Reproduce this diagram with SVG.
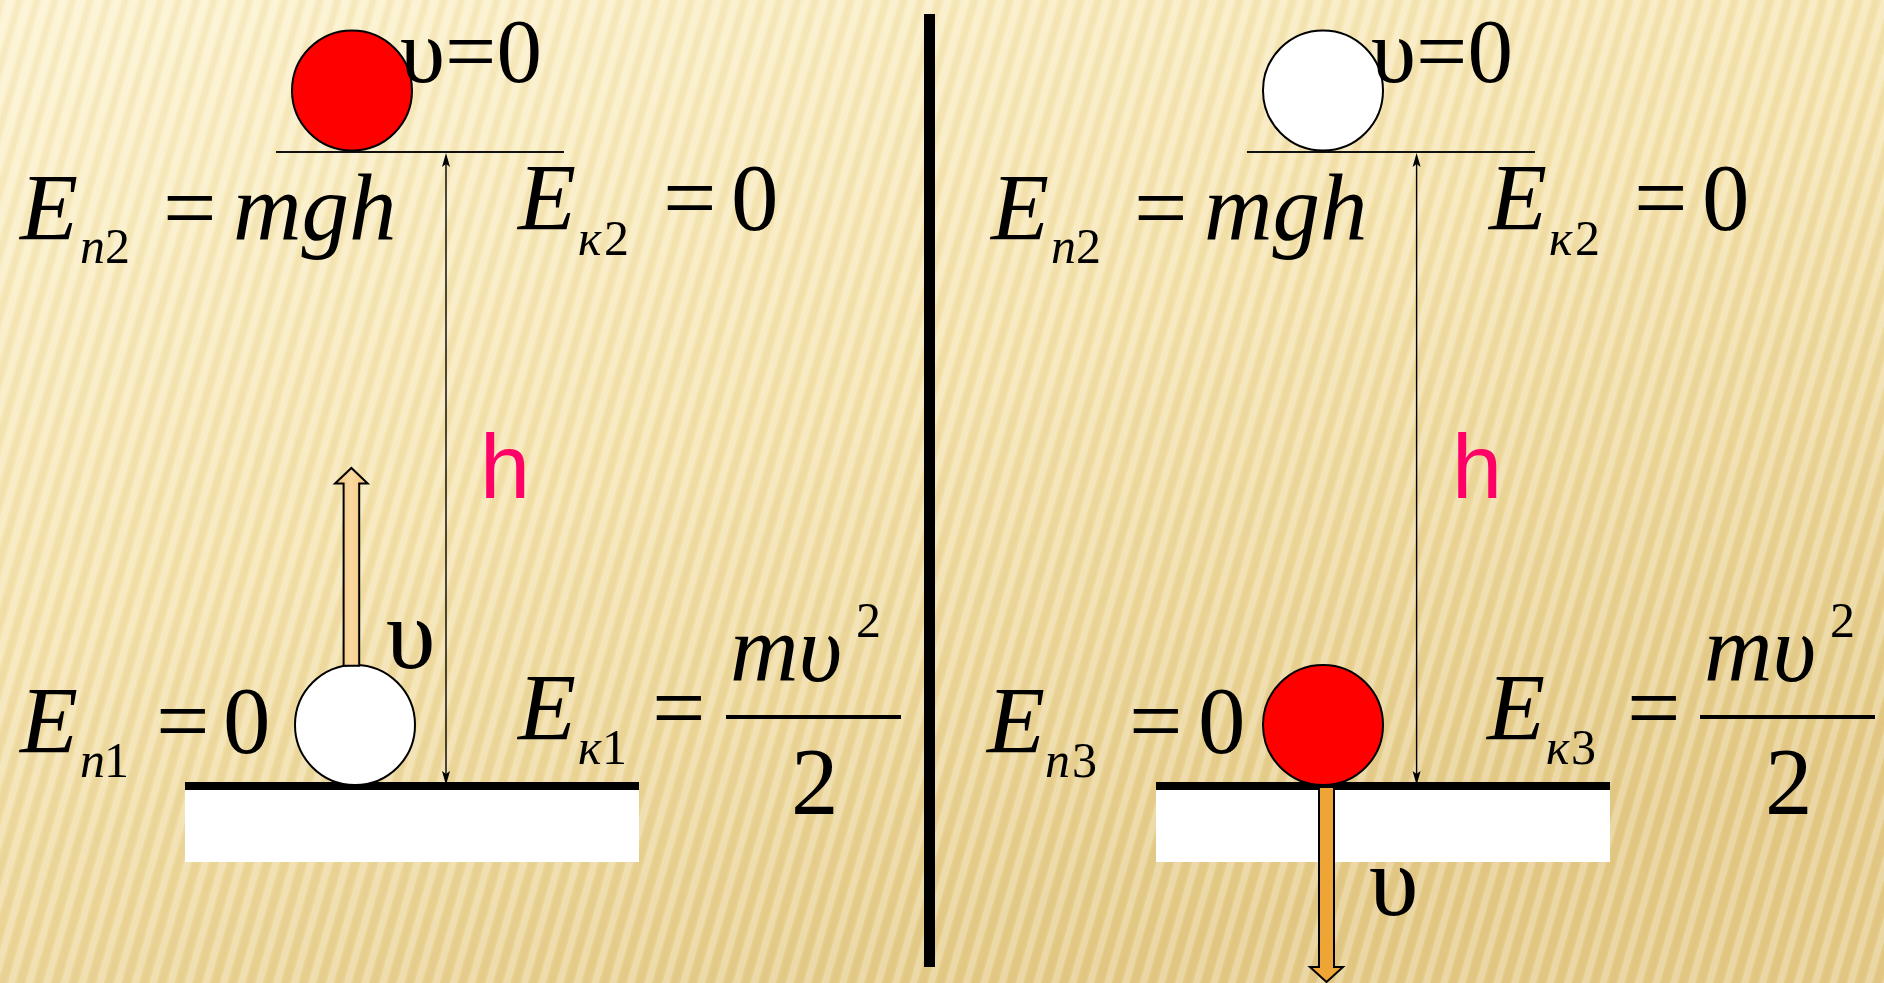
<svg xmlns="http://www.w3.org/2000/svg" width="1884" height="983" viewBox="0 0 1884 983">
<defs>
<linearGradient id="bg" x1="0" y1="0" x2="0.55" y2="1">
<stop offset="0" stop-color="#FCF2CD"/>
<stop offset="0.5" stop-color="#F5E3AD"/>
<stop offset="1" stop-color="#E4CA87"/>
</linearGradient>
<linearGradient id="upFill" x1="0" y1="0" x2="1" y2="0">
<stop offset="0" stop-color="#F3C47A"/>
<stop offset="0.5" stop-color="#FAD9A0"/>
<stop offset="1" stop-color="#F3C47A"/>
</linearGradient>
</defs>
<rect width="1884" height="983" fill="url(#bg)"/>
<line x1="-500" y1="490" x2="2400" y2="490" stroke="#FFFFFF" stroke-opacity="0.25" stroke-width="1700" stroke-dasharray="7 10" transform="rotate(16 942 490)"/>
<line x1="-500" y1="490" x2="2400" y2="490" stroke="#B08A30" stroke-opacity="0.06" stroke-width="1700" stroke-dasharray="6 11" stroke-dashoffset="-9" transform="rotate(16 942 490)"/>

<rect x="924" y="14" width="11" height="953" fill="#000"/>

<g id="left-top-platform">
<line x1="276" y1="152" x2="564" y2="152" stroke="#111" stroke-width="2.2"/>
</g>
<g id="left-ground">
<rect x="185" y="790" width="454" height="72" fill="#FFFFFF"/>
<rect x="185" y="782" width="454" height="8" fill="#000"/>
</g>
<g id="left-ball-top">
<circle cx="352" cy="90.5" r="60" fill="#FF0000" stroke="#000" stroke-width="2"/>
</g>
<g id="left-ball-bottom">
<circle cx="355" cy="725" r="60" fill="#FFFFFF" stroke="#000" stroke-width="2"/>
</g>
<g id="left-velocity">
<path d="M343.6,665.8 L343.6,483.6 L335,483.6 L351.4,468 L367.7,483.6 L359.2,483.6 L359.2,665.8 Z" fill="url(#upFill)" stroke="#000" stroke-width="2"/>
</g>
<g id="right-top-platform">
<line x1="1247" y1="152" x2="1535" y2="152" stroke="#111" stroke-width="2.2"/>
</g>
<g id="right-ground">
<rect x="1156" y="790" width="454" height="72" fill="#FFFFFF"/>
<rect x="1156" y="782" width="454" height="8" fill="#000"/>
</g>
<g id="right-ball-top">
<circle cx="1323" cy="90.5" r="60" fill="#FFFFFF" stroke="#000" stroke-width="2"/>
</g>
<g id="right-velocity">
<path d="M1319,787 L1319,967 L1310,967 L1326.5,982 L1343,967 L1334,967 L1334,787 Z" fill="#EFA535" stroke="#000" stroke-width="2"/>
</g>
<g id="right-ball-bottom">
<circle cx="1323" cy="725" r="60" fill="#FF0000" stroke="#000" stroke-width="2"/>
</g>
<g id="connectors">
<line x1="446" y1="160" x2="446" y2="778" stroke="#000" stroke-width="1.4"/>
<path d="M446,785 L442,771 L446,774 L450,771 Z" fill="#000"/>
<path d="M446,153 L442,167 L446,164 L450,167 Z" fill="#000"/>
<line x1="1416.6" y1="160" x2="1416.6" y2="778" stroke="#000" stroke-width="1.4"/>
<path d="M1416.6,785 L1412.6,771 L1416.6,774 L1420.6,771 Z" fill="#000"/>
<path d="M1416.6,153 L1412.6,167 L1416.6,164 L1420.6,167 Z" fill="#000"/>
</g>
<line x1="726" y1="717" x2="901" y2="717" stroke="#000" stroke-width="4"/>
<line x1="1700" y1="717" x2="1875" y2="717" stroke="#000" stroke-width="4"/>

<text x="400" y="82" font-family="Liberation Serif" font-size="91">υ=0</text>
<text x="20" y="240" font-family="Liberation Serif" font-size="95" font-style="italic">E</text>
<text x="80" y="263" font-family="Liberation Serif" font-size="50" font-style="italic">п</text>
<text x="105" y="263" font-family="Liberation Serif" font-size="50">2</text>
<text x="163" y="240" font-family="Liberation Serif" font-size="95">=</text>
<text x="233" y="240" font-family="Liberation Serif" font-size="95" font-style="italic">mgh</text>
<text x="518" y="230" font-family="Liberation Serif" font-size="95" font-style="italic">E</text>
<text x="578" y="255" font-family="Liberation Serif" font-size="50" font-style="italic">к</text>
<text x="604" y="255" font-family="Liberation Serif" font-size="50">2</text>
<text x="663" y="230" font-family="Liberation Serif" font-size="95">=</text>
<text x="731" y="230" font-family="Liberation Serif" font-size="95">0</text>
<text x="480" y="498" font-family="Liberation Sans" font-size="90" fill="#FF0066">h</text>
<text x="20" y="753" font-family="Liberation Serif" font-size="95" font-style="italic">E</text>
<text x="80" y="777" font-family="Liberation Serif" font-size="50" font-style="italic">п</text>
<text x="104" y="777" font-family="Liberation Serif" font-size="50">1</text>
<text x="156" y="753" font-family="Liberation Serif" font-size="95">=</text>
<text x="223" y="753" font-family="Liberation Serif" font-size="95">0</text>
<text x="518" y="740" font-family="Liberation Serif" font-size="95" font-style="italic">E</text>
<text x="578" y="764" font-family="Liberation Serif" font-size="50" font-style="italic">к</text>
<text x="602" y="764" font-family="Liberation Serif" font-size="50">1</text>
<text x="652" y="740" font-family="Liberation Serif" font-size="95">=</text>
<text x="730" y="681" font-family="Liberation Serif" font-size="95" font-style="italic">mυ</text>
<text x="856" y="637" font-family="Liberation Serif" font-size="50">2</text>
<text x="791" y="814" font-family="Liberation Serif" font-size="95">2</text>
<text x="386" y="668" font-family="Liberation Serif" font-size="100">υ</text>

<text x="1371" y="82" font-family="Liberation Serif" font-size="91">υ=0</text>
<text x="991" y="240" font-family="Liberation Serif" font-size="95" font-style="italic">E</text>
<text x="1051" y="263" font-family="Liberation Serif" font-size="50" font-style="italic">п</text>
<text x="1076" y="263" font-family="Liberation Serif" font-size="50">2</text>
<text x="1134" y="240" font-family="Liberation Serif" font-size="95">=</text>
<text x="1204" y="240" font-family="Liberation Serif" font-size="95" font-style="italic">mgh</text>
<text x="1489" y="230" font-family="Liberation Serif" font-size="95" font-style="italic">E</text>
<text x="1549" y="255" font-family="Liberation Serif" font-size="50" font-style="italic">к</text>
<text x="1575" y="255" font-family="Liberation Serif" font-size="50">2</text>
<text x="1634" y="230" font-family="Liberation Serif" font-size="95">=</text>
<text x="1702" y="230" font-family="Liberation Serif" font-size="95">0</text>
<text x="1452" y="498" font-family="Liberation Sans" font-size="90" fill="#FF0066">h</text>
<text x="987" y="753" font-family="Liberation Serif" font-size="95" font-style="italic">E</text>
<text x="1045" y="777" font-family="Liberation Serif" font-size="50" font-style="italic">п</text>
<text x="1072" y="777" font-family="Liberation Serif" font-size="50">3</text>
<text x="1129" y="753" font-family="Liberation Serif" font-size="95">=</text>
<text x="1198" y="753" font-family="Liberation Serif" font-size="95">0</text>
<text x="1487" y="740" font-family="Liberation Serif" font-size="95" font-style="italic">E</text>
<text x="1546" y="764" font-family="Liberation Serif" font-size="50" font-style="italic">к</text>
<text x="1571" y="764" font-family="Liberation Serif" font-size="50">3</text>
<text x="1627" y="740" font-family="Liberation Serif" font-size="95">=</text>
<text x="1704" y="681" font-family="Liberation Serif" font-size="95" font-style="italic">mυ</text>
<text x="1830" y="637" font-family="Liberation Serif" font-size="50">2</text>
<text x="1765" y="814" font-family="Liberation Serif" font-size="95">2</text>
<text x="1369" y="915" font-family="Liberation Serif" font-size="100">υ</text>
</svg>
